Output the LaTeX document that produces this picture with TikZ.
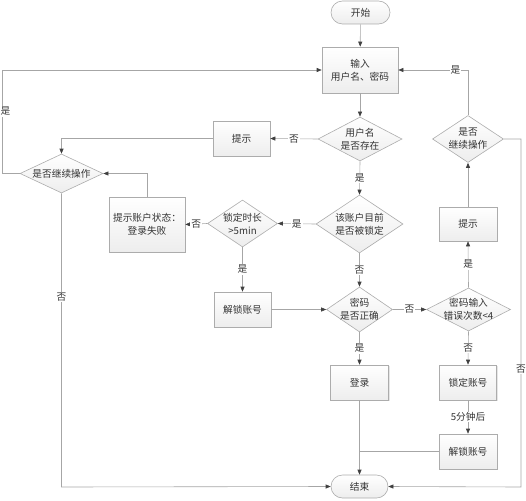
\documentclass[tikz,border=0pt]{standalone}
\usepackage{fontspec}
\setmainfont{Noto Sans CJK SC}
\usetikzlibrary{shapes.geometric,shapes.misc,arrows.meta,shadows}
\begin{document}
\begin{tikzpicture}[x=1pt,y=-1pt,
  font=\fontsize{9.7}{13}\selectfont,
  base/.style={draw=gray!65, line width=0.6pt, top color=white, bottom color=gray!14, text=black!80, align=center, inner sep=0pt},
  boxn/.style={base, rectangle, drop shadow={shadow xshift=1pt, shadow yshift=-1pt, opacity=0.2}},
  term/.style={base, rounded rectangle},
  dia/.style={base, diamond},
  conn/.style={draw=gray!70, line width=0.6pt},
  arr/.style={conn, -{Triangle[width=4pt,length=5pt]}, arrows={[color=black!75]}},
  lbl/.style={fill=white, inner sep=1pt, text=black!80}
]
\useasboundingbox (0,0) rectangle (526,500);

% nodes
\node[term, minimum width=59pt, minimum height=23pt] (start) at (360.5,12.5) {开始};
\node[boxn, minimum width=76pt, minimum height=46pt] (input) at (360,70) {输入\\用户名、密码};
\node[dia, minimum width=84pt, minimum height=44pt] (d1) at (360,139) {};
\node[align=center, text=black!80] at (d1) {用户名\\是否存在};
\node[boxn, minimum width=57pt, minimum height=35pt] (tip1) at (241.5,138.5) {提示};
\node[dia, minimum width=83pt, minimum height=39pt] (cont1) at (61.5,173.5) {};
\node[text=black!80] at (cont1) {是否继续操作};
\node[boxn, minimum width=76pt, minimum height=55pt] (status) at (147,224.5) {提示账户状态：\\登录失败};
\node[dia, minimum width=70pt, minimum height=47pt] (lockdur) at (242.5,223.5) {};
\node[align=center, text=black!80] at (lockdur) {锁定时长\\>5min};
\node[dia, minimum width=87pt, minimum height=58pt] (d2) at (359.5,224) {};
\node[align=center, text=black!80] at (d2) {该账户目前\\是否被锁定};
\node[boxn, minimum width=57pt, minimum height=35pt] (unlock1) at (242.5,309.5) {解锁账号};
\node[dia, minimum width=66pt, minimum height=45pt] (d3) at (359.5,309.5) {};
\node[align=center, text=black!80] at (d3) {密码\\是否正确};
\node[dia, minimum width=84pt, minimum height=43pt] (d4) at (468.5,309.5) {};
\node[align=center, text=black!80] at (d4) {密码输入\\错误次数<4};
\node[boxn, minimum width=58pt, minimum height=35pt] (login) at (359.5,382.5) {登录};
\node[boxn, minimum width=57pt, minimum height=35pt] (lockacc) at (468,382.5) {锁定账号};
\node[boxn, minimum width=58pt, minimum height=35pt] (unlock2) at (468,451.5) {解锁账号};
\node[term, minimum width=57pt, minimum height=23pt] (end) at (359.5,486.5) {结束};
\node[boxn, minimum width=58pt, minimum height=34pt] (tip2) at (468,224) {提示};
\node[dia, minimum width=71pt, minimum height=47pt] (cont2) at (468,139) {};
\node[align=center, text=black!80] at (cont2) {是否\\继续操作};

% corner coordinates
\coordinate (lt) at (2,70);
\coordinate (lm) at (2,173.5);
\coordinate (lb) at (61.5,487);
\coordinate (rt) at (521,139);
\coordinate (rb) at (521,487);

% connectors
\draw[arr] (start) -- (input);
\draw[arr] (input) -- (d1);
\draw[arr] (d1.west) -- node[lbl]{否} (tip1.east);
\draw[arr] (tip1.west) -| (cont1.north);
\draw[arr] (d1.south) -- node[lbl]{是} (d2.north);
\draw[arr] (d2.west) -- node[lbl]{是} (lockdur.east);
\draw[arr] (lockdur.west) -- node[lbl]{否} (status.east);
\draw[arr] (status.north) |- (cont1.east);
\draw[arr] (cont1.west) -- (lm) -- node[lbl, pos=0.6, xshift=3.5pt]{是} (lt) -- (input.west);
\draw[arr] (cont1.south) -- node[lbl, pos=0.354]{否} (lb) -- (end.west);
\draw[arr] (lockdur.south) -- node[lbl]{是} (unlock1.north);
\draw[arr] (unlock1.east) -- (d3.west);
\draw[arr] (d2.south) -- node[lbl]{否} (d3.north);
\draw[arr] (d3.east) -- node[lbl]{否} (d4.west);
\draw[arr] (d3.south) -- node[lbl]{是} (login.north);
\draw[arr] (d4.south) -- node[lbl]{否} (lockacc.north);
\draw[arr] (d4.north) -- node[lbl]{是} (tip2.south);
\draw[arr] (tip2.north) -- (cont2.south);
\draw[arr] (cont2.north) |- node[lbl, pos=0.59]{是} (input.east);
\draw[arr] (cont2.east) -- (rt) -- node[lbl, pos=0.66]{否} (rb) -- (end.east);
\draw[arr] (lockacc.south) -- node[lbl]{5分钟后} (unlock2.north);
\draw[conn] (unlock2.west) -- (unlock2.west -| login.south);
\draw[arr] (login.south) -- (end.north);
\end{tikzpicture}
\end{document}
